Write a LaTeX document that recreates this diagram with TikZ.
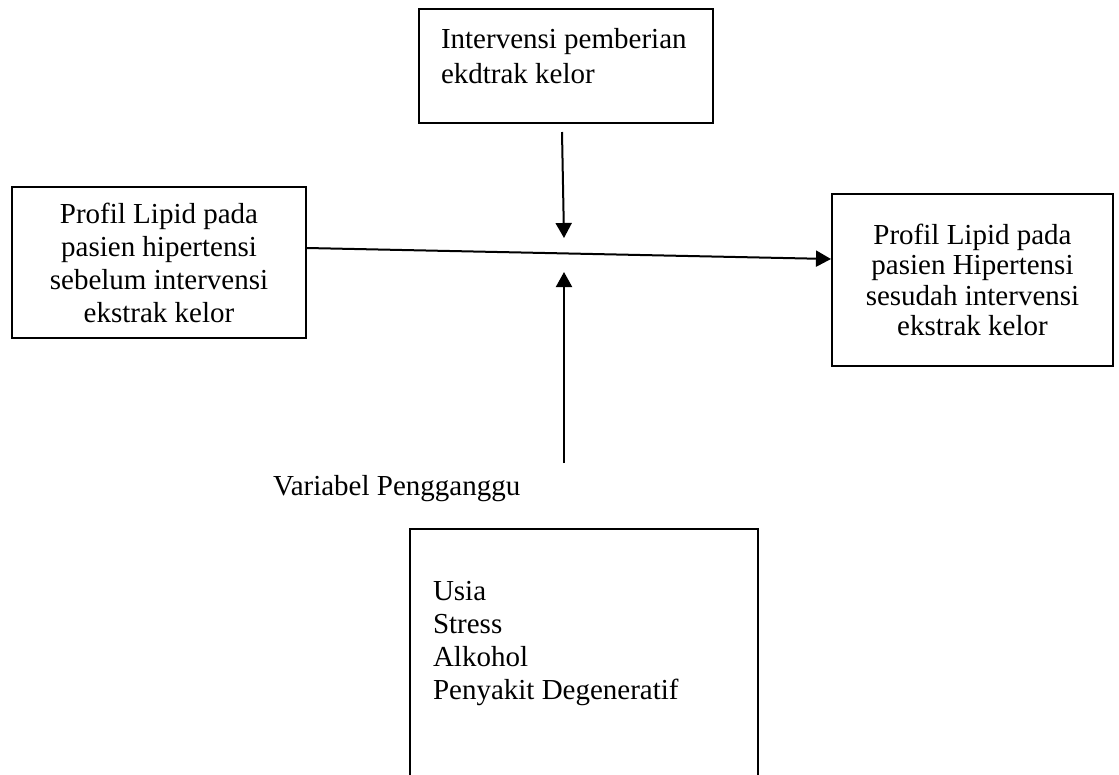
\documentclass[tikz,border=0pt]{standalone}
\usepackage{fontspec}
\setmainfont{Liberation Serif}
\usetikzlibrary{positioning, arrows.meta, calc}

\begin{document}
\begin{tikzpicture}[
    x=0.4pt, y=-0.4pt,
    > = {Triangle[length=6pt, width=6.4pt]},
    line width=0.8pt,
    font=\fontsize{11.6}{13.2}\selectfont,
    box/.style={draw, rectangle, inner sep=0pt},
    txt/.style={inner sep=0pt, align=left, anchor=north west}
]
\clip (0,0) rectangle (1119,774);

% --- Top: intervention ---
\node[box, minimum width=117.6pt, minimum height=45.6pt] (interv) at (566,66) {};
\node[txt, font=\fontsize{11.6}{14}\selectfont] (intervtext) at (440,27) {Intervensi pemberian\\ekdtrak kelor};

% --- Left and right: lipid profile ---
\node[box, align=center, minimum width=117.6pt, minimum height=60.4pt] (pre) at (159,262.5)
    {Profil Lipid pada\\pasien hipertensi\\sebelum intervensi\\ekstrak kelor};
\node[box, align=center, minimum width=112.4pt, minimum height=68.8pt,
      font=\fontsize{11.6}{12.2}\selectfont] (post) at (972.5,280)
    {Profil Lipid pada\\pasien Hipertensi\\sesudah intervensi\\ekstrak kelor};

% --- Bottom: confounders ---
\node[anchor=base west, inner sep=0pt] (conflabel) at (272,495) {Variabel Pengganggu};
\node[box, anchor=north, minimum width=139.2pt, minimum height=120pt] (conf) at (584,528) {};
\node[txt] (conftext) at (432,580) {Usia\\Stress\\Alkohol\\Penyakit Degeneratif};

% Arrows
\coordinate (downtip) at (564,238);
\coordinate (uptip) at (564,272);
\draw[->] ($(interv.south)+(-4,8)$) -- (downtip);
\draw[->] ($(conf.north)+(-20,-65)$) -- (uptip);
\draw[->] ($(pre.east)+(0,-14.5)$) -- ($(post.west)+(0,-21)$);

\end{tikzpicture}
\end{document}
